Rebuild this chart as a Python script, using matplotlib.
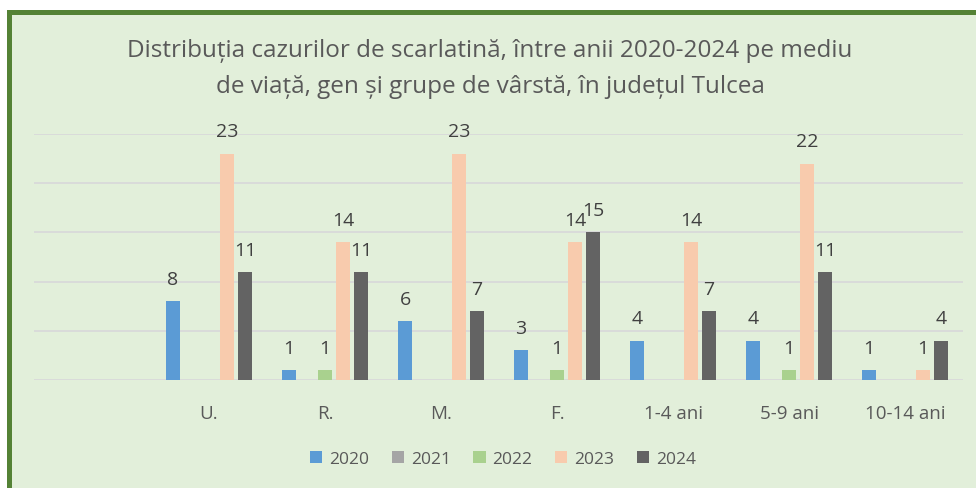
import matplotlib
matplotlib.use("Agg")
import matplotlib.pyplot as plt
from matplotlib.patches import Rectangle, Patch
import numpy as np

plt.rcParams['font.family'] = ['Open Sans', 'DejaVu Sans']

categories = ["U.", "R.", "M.", "F.", "1-4 ani", "5-9 ani", "10-14 ani"]
series_names = ["2020", "2021", "2022", "2023", "2024"]
v2020 = [8, 1, 6, 3, 4, 4, 1]
v2021 = [0, 0, 0, 0, 0, 0, 0]
v2022 = [0, 1, 0, 1, 0, 1, 0]
v2023 = [23, 14, 23, 14, 14, 22, 1]
v2024 = [11, 11, 7, 15, 7, 11, 4]
values = [v2020, v2021, v2022, v2023, v2024]
colors = ["#5B9BD5", "#A5A5A5", "#A9D18E", "#F8CBAD", "#636363"]
title = "Distribuția cazurilor de scarlatină, între anii 2020-2024 pe mediu\nde viață, gen și grupe de vârstă, în județul Tulcea"

W, H = 976, 489
fig = plt.figure(figsize=(W / 100, H / 100), dpi=100)
fig.patch.set_facecolor("white")

# background panel with green border (top and left visible)
fig.patches.append(Rectangle((7 / W, 0), 1, 1 - 11 / H, transform=fig.transFigure,
                             facecolor="#E2EFDA", edgecolor="none", zorder=-3))
fig.patches.append(Rectangle((7 / W, 1 - 16 / H), 1, 5 / H, transform=fig.transFigure,
                             facecolor="#548235", edgecolor="none", zorder=-2))
fig.patches.append(Rectangle((7 / W, 0), 5 / W, 1 - 11 / H, transform=fig.transFigure,
                             facecolor="#548235", edgecolor="none", zorder=-2))

ax = fig.add_axes([34 / W, 1 - 381 / H, 929 / W, 246 / H])
ax.set_facecolor("none")
x = np.arange(len(categories))
slot = 18 / 116
bw = 14 / 116
for i, (name, vals, c) in enumerate(zip(series_names, values, colors)):
    xs = x + (i - 2) * slot
    ax.bar(xs, vals, width=bw, color=c, zorder=3)
    for xi, v in zip(xs, vals):
        if v > 0:
            ax.annotate(str(v), (xi, v), xytext=(0, 9.5), textcoords="offset points",
                        ha="center", va="bottom", fontsize=14, color="#404040",
                        annotation_clip=False, zorder=4)

ax.set_ylim(0, 25)
ax.set_xlim(-1.509, 6.5)
ax.set_yticks(np.arange(0, 26, 5))
ax.yaxis.grid(True, color="#D9D9D9", linewidth=1.3, zorder=0)
ax.tick_params(axis="y", left=False, labelleft=False)
ax.tick_params(axis="x", bottom=False, pad=14)
ax.set_xticks(x)
ax.set_xticklabels(categories, fontsize=13.5, color="#595959")
for s in ax.spines.values():
    s.set_visible(False)

fig.text(490 / W, 1 - 69 / H, title, ha="center", va="center", fontsize=17.5,
         color="#595959", linespacing=1.7)

handles = [Patch(facecolor=c, edgecolor="none") for c in colors]
fig.legend(handles, series_names, loc="center", bbox_to_anchor=(503 / W, 1 - 460 / H),
           ncol=5, frameon=False, fontsize=12.5, labelcolor="#595959",
           handlelength=0.7, handleheight=0.7, handletextpad=0.4, columnspacing=1.3)

fig.savefig("out.png", dpi=100, facecolor=fig.get_facecolor())
